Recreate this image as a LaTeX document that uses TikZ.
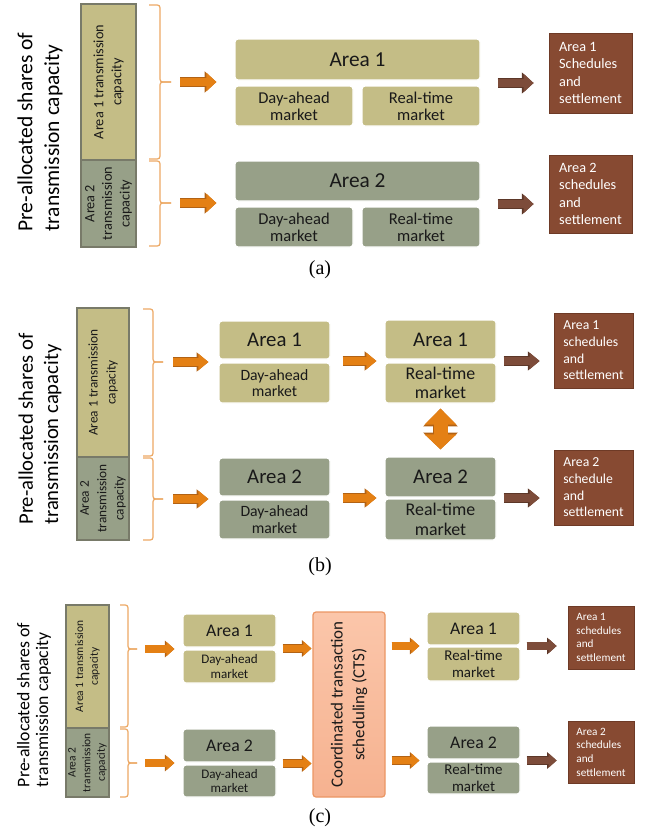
\documentclass[tikz,border=0pt]{standalone}
\usepackage{fontspec}
\setmainfont{Carlito}
\newfontfamily\capfont{Liberation Serif}
\usetikzlibrary{arrows.meta,shadows,calc}
\newdimen\pxu \pxu=0.75pt
\definecolor{olv}{RGB}{196,189,134}
\definecolor{sage}{RGB}{151,160,136}
\definecolor{barline}{RGB}{120,122,105}
\definecolor{brn}{RGB}{135,74,50}
\definecolor{brnline}{RGB}{110,58,38}
\definecolor{brnarrow}{RGB}{125,76,58}
\definecolor{brnarrowdk}{RGB}{92,55,40}
\definecolor{orng}{RGB}{228,128,20}
\definecolor{orngdk}{RGB}{178,98,20}
\definecolor{bracec}{RGB}{236,168,100}
\definecolor{ctstop}{RGB}{251,198,170}
\definecolor{ctsbot}{RGB}{246,178,144}
\definecolor{ctsline}{RGB}{235,150,100}
\definecolor{txt}{RGB}{25,25,25}

\newcommand{\pbox}[8]{%
  \pgfmathsetmacro\pbX{(#3+#5)/2}\pgfmathsetmacro\pbY{(#4+#6)/2}%
  \pgfmathsetmacro\pbW{#5-#3}\pgfmathsetmacro\pbH{#6-#4}%
  \node[#1, minimum width=\pbW\pxu, minimum height=\pbH\pxu, font=#7] (#2) at (\pbX,\pbY) {#8};}
% brace: xleft, xvertical, xtip, ytop, ytip, ybottom
\newcommand{\capbrace}[6]{%
  \draw[bracestyle] (#1,#4) -- (#2,#4) -- (#2,#5) -- (#3,#5);
  \draw[bracestyle] (#1,#6) -- (#2,#6) -- (#2,#5) -- (#3,#5);}

\tikzset{
  mkt/.style={draw=white, line width=0.9pt, rounded corners=2.25pt, inner sep=0pt, align=center, text=txt},
  olvbox/.style={mkt, fill=olv},
  sagebox/.style={mkt, fill=sage},
  barbox/.style={draw=barline, line width=0.9pt, inner sep=0pt},
  bartext/.style={rotate=90, align=center, text=txt},
  titletext/.style={rotate=90, align=left, text=black},
  sched/.style={fill=brn, draw=brnline, line width=0.6pt, text=white, align=left, inner sep=0pt,
    drop shadow={shadow xshift=1.1pt, shadow yshift=-1.1pt, opacity=0.35}},
  ctsbox/.style={top color=ctstop, bottom color=ctsbot, draw=ctsline, line width=0.9pt, rounded corners=2.25pt, inner sep=0pt},
  bracestyle/.style={draw=bracec, line width=0.9pt, rounded corners=2pt},
  oarrow/.style={draw=orng, line width=6pt, -{Triangle[length=7.5pt,width=13.5pt]},
    preaction={draw=orngdk, line width=7.3pt, -{Triangle[length=8.8pt,width=15.3pt]}}},
  oarrowb/.style={draw=orng, line width=6pt, -{Triangle[length=7.5pt,width=12pt]},
    preaction={draw=orngdk, line width=7.3pt, -{Triangle[length=8.8pt,width=13.8pt]}}},
  oarrowc/.style={draw=orng, line width=5.4pt, -{Triangle[length=6pt,width=10.5pt]},
    preaction={draw=orngdk, line width=6.6pt, -{Triangle[length=7.2pt,width=12.2pt]}}},
  barrow/.style={draw=brnarrow, line width=6pt, -{Triangle[length=7.5pt,width=13.5pt]},
    preaction={draw=brnarrowdk, line width=7.3pt, -{Triangle[length=8.8pt,width=15.3pt]}}},
  barrowb/.style={draw=brnarrow, line width=6pt, -{Triangle[length=7.5pt,width=12pt]},
    preaction={draw=brnarrowdk, line width=7.3pt, -{Triangle[length=8.8pt,width=13.8pt]}}},
  barrowc/.style={draw=brnarrow, line width=5.4pt, -{Triangle[length=6pt,width=10.5pt]},
    preaction={draw=brnarrowdk, line width=6.6pt, -{Triangle[length=7.2pt,width=12.2pt]}}},
  dblarrow/.style={draw=orng, line width=10.5pt, {Triangle[length=12pt,width=23.25pt]}-{Triangle[length=11.25pt,width=23.25pt]},
    preaction={draw=orngdk, line width=11.8pt, {Triangle[length=13.4pt,width=25.2pt]}-{Triangle[length=12.6pt,width=25.2pt]}}},
  captext/.style={font=\capfont\fontsize{15}{18}\selectfont},
}

\begin{document}
\begin{tikzpicture}[x=0.75pt,y=-0.75pt]
\useasboundingbox (0,0) rectangle (644,832);

% ================= (a) =================
\node[titletext, font=\fontsize{16.1}{20}\selectfont] (titleA) at (40,132) {Pre-allocated shares of\\transmission capacity};
\pbox{barbox, fill=olv}{barA1}{81}{4}{136}{160}{}{}
\pbox{barbox, fill=sage}{barA2}{81}{160}{136}{247}{}{}
\node[bartext, font=\fontsize{10.7}{13.5}\selectfont] at (barA1) {Area 1 transmission\\capacity};
\node[bartext, font=\fontsize{10.7}{13.2}\selectfont] at (barA2) {Area 2\\transmission\\capacity};
\capbrace{149}{160}{171}{5}{82}{159}
\capbrace{149}{160}{171}{161}{203}{246}
\coordinate (tA1) at (171,82);
\coordinate (tA2) at (171,203);

\pbox{olvbox}{aA1}{235}{39}{480}{80}{\fontsize{16}{19}\selectfont}{Area 1}
\pbox{olvbox}{daA1}{235}{86}{353}{126}{\fontsize{12.4}{12.8}\selectfont}{Day-ahead\\market}
\pbox{olvbox}{rtA1}{362}{86}{480}{126}{\fontsize{12.4}{12.8}\selectfont}{Real-time\\market}
\pbox{sagebox}{aA2}{235}{161}{480}{201}{\fontsize{16}{19}\selectfont}{Area 2}
\pbox{sagebox}{daA2}{235}{207}{353}{247}{\fontsize{12.4}{12.8}\selectfont}{Day-ahead\\market}
\pbox{sagebox}{rtA2}{362}{207}{480}{247}{\fontsize{12.4}{12.8}\selectfont}{Real-time\\market}
\pbox{sched}{sA1}{549}{33}{632}{113}{\fontsize{10.7}{13}\selectfont}{Area 1\\Schedules\\and\\settlement}
\pbox{sched}{sA2}{549}{155}{632}{233}{\fontsize{10.7}{13}\selectfont}{Area 2\\schedules\\and\\settlement}

\draw[oarrow, shorten <=6.75pt, shorten >=13.5pt] (tA1) -- (tA1 -| aA1.west);
\draw[oarrow, shorten <=6.75pt, shorten >=13.5pt] (tA2) -- (tA2 -| aA2.west);
\coordinate (mA1) at ($(aA1.south east)!0.5!(rtA1.north east)$);
\coordinate (mA2) at ($(aA2.south east)!0.5!(rtA2.north east)$);
\draw[barrow, shorten <=12.75pt, shorten >=11.25pt] (mA1) -- (mA1 -| sA1.west);
\draw[barrow, shorten <=12.75pt, shorten >=11.25pt] (mA2) -- (mA2 -| sA2.west);
\node[captext] (capA) at (320,270) {(a)};

% ================= (b) =================
\node[titletext, font=\fontsize{15.5}{18.8}\selectfont] (titleB) at (40,429) {Pre-allocated shares of\\transmission capacity};
\pbox{barbox, fill=olv}{barB1}{77}{308}{129}{457}{}{}
\pbox{barbox, fill=sage}{barB2}{77}{457}{129}{540}{}{}
\node[bartext, font=\fontsize{10}{13.5}\selectfont] at (barB1) {Area 1 transmission\\capacity};
\node[bartext, font=\fontsize{10}{13}\selectfont] at (barB2) {Area 2\\transmission\\capacity};
\capbrace{143}{153}{163}{309}{362}{456}
\capbrace{143}{153}{163}{458}{499}{540}
\coordinate (tB1) at (163,362);
\coordinate (tB2) at (163,499);

\pbox{olvbox}{aB1}{219}{321}{330}{359}{\fontsize{15.6}{18}\selectfont}{Area 1}
\pbox{olvbox}{daB1}{219}{363}{330}{403}{\fontsize{11.8}{12.5}\selectfont}{Day-ahead\\market}
\pbox{sagebox}{aB2}{219}{458}{330}{496}{\fontsize{15.6}{18}\selectfont}{Area 2}
\pbox{sagebox}{daB2}{219}{500}{330}{539}{\fontsize{11.8}{12.5}\selectfont}{Day-ahead\\market}
\pbox{olvbox}{arB1}{385}{320}{496}{359}{\fontsize{15.6}{18}\selectfont}{Area 1}
\pbox{olvbox}{rtB1}{385}{363}{496}{403}{\fontsize{13.4}{14.5}\selectfont}{Real-time\\market}
\pbox{sagebox}{arB2}{385}{457}{496}{497}{\fontsize{15.6}{18}\selectfont}{Area 2}
\pbox{sagebox}{rtB2}{385}{499}{496}{540}{\fontsize{13.4}{14.5}\selectfont}{Real-time\\market}
\pbox{sched}{sB1}{554}{313}{633}{388}{\fontsize{10.3}{12.5}\selectfont}{Area 1\\schedules\\and\\settlement}
\pbox{sched}{sB2}{554}{450}{633}{525}{\fontsize{10.3}{12.5}\selectfont}{Area 2\\schedule\\and\\settlement}

\draw[oarrowb, shorten <=7.5pt, shorten >=7.5pt] (tB1) -- (tB1 -| aB1.west);
\draw[oarrowb, shorten <=7.5pt, shorten >=7.5pt] (tB2) -- (tB2 -| aB2.west);
\coordinate (mB1) at ($(aB1.south east)!0.5!(daB1.north east)$);
\coordinate (mB2) at ($(aB2.south east)!0.5!(daB2.north east)$);
\draw[oarrowb, shorten <=9pt, shorten >=6pt] (mB1) -- (mB1 -| arB1.west);
\draw[oarrowb, shorten <=9pt, shorten >=6pt] (mB2) -- (mB2 -| arB2.west);
\coordinate (nB1) at ($(arB1.south east)!0.5!(rtB1.north east)$);
\coordinate (nB2) at ($(arB2.south east)!0.5!(rtB2.north east)$);
\draw[barrowb, shorten <=5.25pt, shorten >=10.5pt] (nB1) -- (nB1 -| sB1.west);
\draw[barrowb, shorten <=5.25pt, shorten >=10.5pt] (nB2) -- (nB2 -| sB2.west);
\draw[dblarrow, shorten <=3.75pt, shorten >=5.25pt] (rtB1.south) -- (arB2.north);
\node[captext] (capB) at (320,567) {(b)};

% ================= (c) =================
\node[titletext, font=\fontsize{13.3}{14}\selectfont] (titleC) at (34,705) {Pre-allocated shares of\\transmission capacity};
\pbox{barbox, fill=olv}{barC1}{66}{605}{109}{728}{}{}
\pbox{barbox, fill=sage}{barC2}{66}{728}{109}{797}{}{}
\node[bartext, font=\fontsize{8.6}{11.2}\selectfont] at (barC1) {Area 1 transmission\\capacity};
\node[bartext, font=\fontsize{8.6}{11}\selectfont] at (barC2) {Area 2\\transmission\\capacity};
\capbrace{120}{128}{137}{605}{649}{727}
\capbrace{120}{128}{137}{729}{763}{797}
\coordinate (tC1) at (137,649);
\coordinate (tC2) at (137,763);

\pbox{olvbox}{aC1}{183}{614}{276}{647}{\fontsize{13.3}{15}\selectfont}{Area 1}
\pbox{olvbox}{daC1}{183}{650}{276}{683}{\fontsize{9.8}{10.7}\selectfont}{Day-ahead\\market}
\pbox{sagebox}{aC2}{183}{729}{276}{762}{\fontsize{13.3}{15}\selectfont}{Area 2}
\pbox{sagebox}{daC2}{183}{765}{276}{797}{\fontsize{9.8}{10.7}\selectfont}{Day-ahead\\market}
\pbox{ctsbox}{cts}{313}{612}{385}{797}{}{}
\node[bartext, font=\fontsize{12.7}{16.3}\selectfont] at (cts) {Coordinated transaction\\scheduling (CTS)};
\pbox{olvbox}{arC1}{427}{612}{520}{645}{\fontsize{13.3}{15}\selectfont}{Area 1}
\pbox{olvbox}{rtC1}{427}{647}{520}{681}{\fontsize{11.2}{12.5}\selectfont}{Real-time\\market}
\pbox{sagebox}{arC2}{427}{726}{520}{759}{\fontsize{13.3}{15}\selectfont}{Area 2}
\pbox{sagebox}{rtC2}{427}{762}{520}{794}{\fontsize{11.2}{12.5}\selectfont}{Real-time\\market}
\pbox{sched}{sC1}{568}{606}{634}{669}{\fontsize{8.4}{10.3}\selectfont}{Area 1\\schedules\\and\\settlement}
\pbox{sched}{sC2}{568}{721}{634}{783}{\fontsize{8.4}{10.3}\selectfont}{Area 2\\schedules\\and\\settlement}

\draw[oarrowc, shorten <=6pt, shorten >=6pt] (tC1) -- (tC1 -| aC1.west);
\draw[oarrowc, shorten <=6pt, shorten >=6pt] (tC2) -- (tC2 -| aC2.west);
\coordinate (mC1) at ($(aC1.south east)!0.5!(daC1.north east)$);
\coordinate (mC2) at ($(aC2.south east)!0.5!(daC2.north east)$);
\draw[oarrowc, shorten <=4.5pt, shorten >=0.75pt] (mC1) -- (mC1 -| cts.west);
\draw[oarrowc, shorten <=4.5pt, shorten >=0.75pt] (mC2) -- (mC2 -| cts.west);
\coordinate (kC1) at ($(arC1.south west)!0.5!(rtC1.north west)$);
\coordinate (kC2) at ($(arC2.south west)!0.5!(rtC2.north west)$);
\draw[oarrowc, shorten <=4.5pt, shorten >=5.25pt] (kC1 -| cts.east) -- (kC1);
\draw[oarrowc, shorten <=4.5pt, shorten >=5.25pt] (kC2 -| cts.east) -- (kC2);
\coordinate (nC1) at ($(arC1.south east)!0.5!(rtC1.north east)$);
\coordinate (nC2) at ($(arC2.south east)!0.5!(rtC2.north east)$);
\draw[barrowc, shorten <=4.5pt, shorten >=8.25pt] (nC1) -- (nC1 -| sC1.west);
\draw[barrowc, shorten <=4.5pt, shorten >=8.25pt] (nC2) -- (nC2 -| sC2.west);
\node[captext] (capC) at (320,818) {(c)};
\end{tikzpicture}
\end{document}
